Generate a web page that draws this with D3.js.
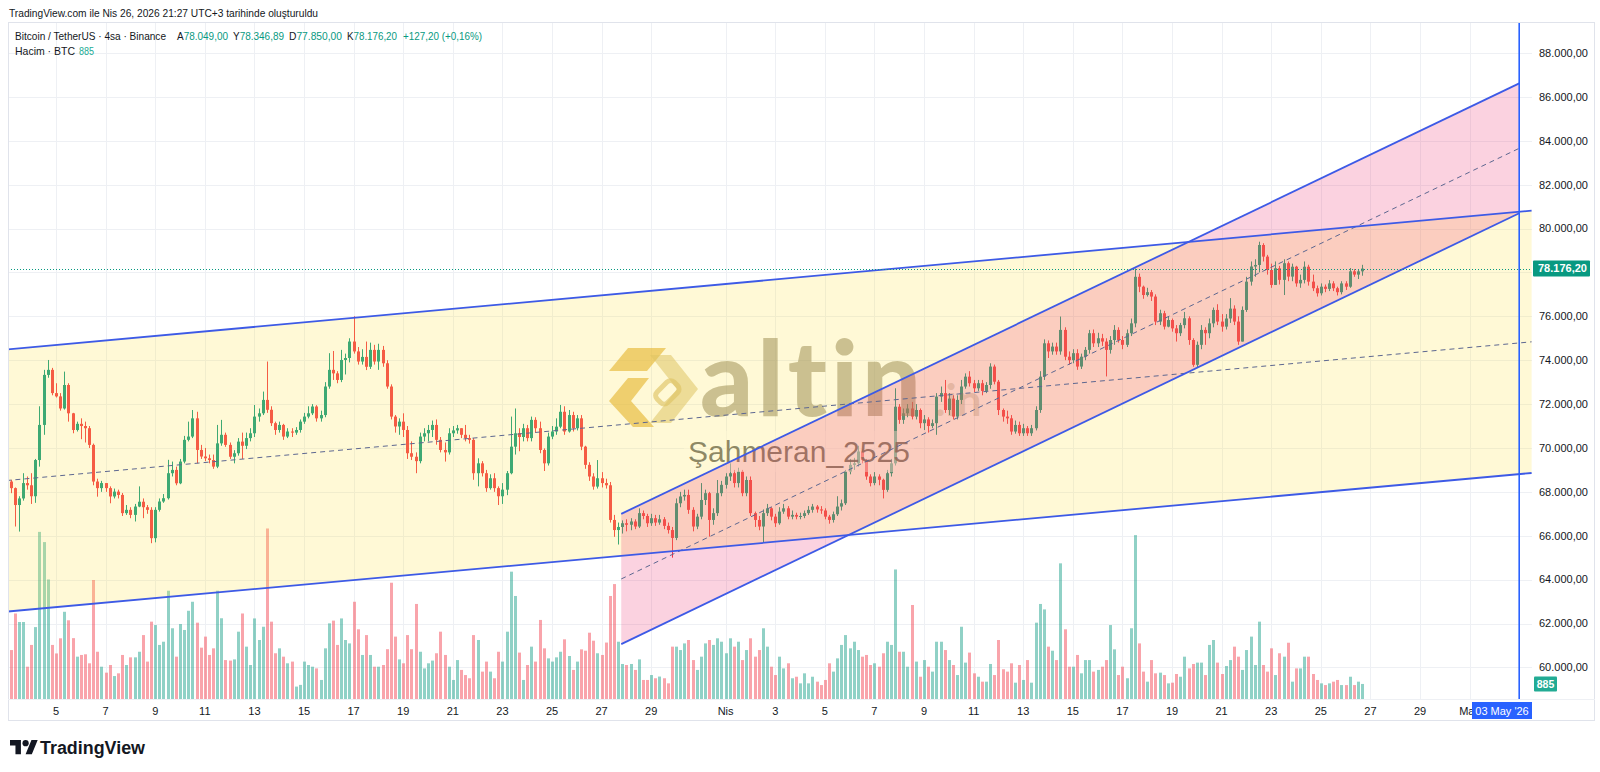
<!DOCTYPE html>
<html><head><meta charset="utf-8">
<script src="https://cdn.jsdelivr.net/npm/d3@7/dist/d3.min.js"></script>
<style>body{margin:0;background:#fff;overflow:hidden}svg{display:block;font-family:"Liberation Sans",Arial,sans-serif}</style>
</head><body><svg id="c" width="1600" height="772"></svg>
<script>
// ---------- DATA ----------
const firstCandle = "2026-03-03T04:00";   // 4h candles (UTC)
const firstOpen = 68470;
const closes = [
68170,67400,67700,68400,68300,67800, 69450,71050,73330,73560,72500,72350,
71800,72870,71580,70820,71100,71000, 70900,70140,68470,68170,68400,68170,
67790,68010,67860,67030,67180,66950, 67330,67550,67300,67180,65890,67180,
67560,67710,68850,69000,68390,69380, 70370,70520,71350,69910,69610,69530,
69450,69150,70210,70600,70140,69600, 69760,70290,70100,70450,70670,71430,
71580,72190,71740,71130,70820,71050, 70520,70750,70700,70820,71200,71430,
71580,71890,71350,71500,72800,73560, 73400,73100,74010,74100,74850,74400,
73940,74150,73700,74470,73940,74470, 73860,72800,71430,70980,71200,70820,
69760,69600,69400,70520,70670,70820, 71050,70370,69910,69800,70670,70800,
70900,70600,70450,70370,68850,69300, 68850,68170,68620,68170,67800,68100,
68850,70060,70670,70500,70900,70450, 71280,70900,69910,69300,70520,70750,
70970,71650,70750,71500,70900,71350, 70060,69230,68700,68240,68620,68400,
68300,66720,66260,66400,66570,66500, 66650,66420,67030,66900,66570,66800,
66600,66750,66450,66260,65900,67480, 67790,67860,67180,66420,66870,67630,
67940,66720,67030,67940,68320,68700, 68850,68400,68920,67940,68540,67030,
66720,66420,67030,67250,66870,66570, 67100,67250,66870,66950,66870,66900,
67030,67180,67330,67200,67150,66870, 66720,66980,67330,67480,68920,69230,
69300,69840,69450,68700,68400,68700, 68550,68090,68850,69300,71880,71280,
71580,71800,71430,71730,71130,71300, 71000,71130,72340,72500,71730,72250,
71430,72190,72800,73250,72950,72720, 72950,72600,72870,73710,73020,71730,
71430,71350,70750,71050,70670,70900, 70670,70900,71730,73250,74770,74400,
74620,74400,75380,74160,74000,74320, 73710,74160,74470,75230,74770,75000,
74850,74470,74920,75380,74920,74700, 75230,75680,77800,77350,76970,77100,
76900,75760,76140,75530,75830,75450, 75230,75600,75910,74920,73790,74700,
75380,75230,75680,76290,75760,75530, 75900,76350,75760,74850,76290,77580,
78270,78340,79250,78720,78110,77430, 78190,77660,78420,77810,78260,77500,
77660,78260,77580,77280,77050,77350, 77250,77500,77280,77100,77500,77350,
78050,77900,78049,78176.2];
const highs = [
68550,68200,67800,68850,68700,68850, 69500,71900,73560,74010,73650,72950,
72500,73480,72950,71600,71200,71350, 71200,71000,70200,68600,68500,68400,
68250,68150,68100,67950,67400,67300, 67450,68250,67700,67400,67300,67300,
67700,67900,69460,69380,69150,69500, 70550,71200,71730,71650,70140,70000,
69700,69700,71050,71280,70700,70250, 69900,70450,70700,70700,70900,71960,
71800,72570,73940,71900,71200,71200, 71100,70900,70900,70950,71300,71600,
71900,72000,71950,71700,73000,74320, 74420,73500,74470,74300,75000,76000,
74600,74500,74850,74800,74700,74750, 74650,74000,72900,71500,71350,71580,
71000,70300,69800,70700,70900,71050, 71250,71300,70500,70250,70900,71000,
71050,70800,71050,70600,70450,69530, 69400,69000,68800,68850,68250,68400,
68950,71430,71800,70900,71100,71050, 71430,71400,71200,69980,70700,71000,
71350,71960,71900,71730,71650,71500, 71500,70100,69350,68850,69450,68900,
68600,68450,66950,66600,66700,66750, 66800,66750,67250,67150,67000,67000,
66950,66950,66850,66600,66400,67700, 68000,68100,68100,67300,67000,68400,
68100,68000,67250,68540,68500,68850, 69300,69000,69100,69000,68700,68700,
67100,66900,67200,67450,67300,67000, 67300,67450,67350,67150,67050,67050,
67150,67350,67450,67400,67350,67250, 66950,67100,67800,67650,69000,69500,
69550,70100,69950,69500,68800,68900, 68800,68600,69000,69500,72720,72000,
71800,72000,72100,72000,71800,71500, 71400,71300,72500,72800,73100,72500,
72400,72400,73100,73400,73500,73100, 73100,73100,73000,73860,73800,73100,
71800,71700,71500,71250,71200,71100, 71000,71050,71900,73500,74950,74900,
74800,74800,75990,75500,74400,74500, 74500,74300,74600,75380,75400,75250,
75200,75000,75100,75600,75500,75100, 75400,75900,78180,77950,77400,77300,
77200,77000,76300,76250,76000,75900, 75600,75700,76200,76000,75000,74850,
75600,75500,75900,76400,76550,76100, 76100,76830,76500,76000,76450,77800,
78500,78600,79400,79330,78800,78400, 78500,78300,78600,78500,78400,78300,
77900,78500,78350,77900,77400,77500, 77450,77650,77600,77350,77600,77600,
78200,78150,78150,78346.89];
const lows = [
67940,66420,66190,67600,68100,67450, 67500,69150,70600,73200,72400,72300,
71700,71750,71200,70670,70750,70400, 70250,70000,68300,67780,68000,68000,
67480,67700,67700,66900,66950,66800, 66650,67300,66800,67000,65660,65700,
67100,67500,67650,68700,68300,68350, 69300,70300,70450,69300,69500,69400,
69300,69050,69080,70100,70050,69500, 69300,69650,69500,69950,70300,70500,
71200,71500,71600,71000,70600,70700, 70370,70450,70500,70600,70700,71100,
71350,71500,71200,71200,71400,72700, 73100,72950,73000,73350,73900,74300,
73800,73800,73550,73600,73800,73560, 73700,72700,71300,70700,70600,70500,
69500,69450,68850,69300,70300,70300, 70500,70150,69800,69380,69700,70500,
70650,70450,70300,70200,68550,68250, 68700,68000,68100,68000,67400,67450,
67850,68800,69700,69850,70300,70300, 70300,70700,69760,68950,69200,70400,
70600,70900,70600,70700,70750,70800, 69900,69050,68500,68100,68150,68200,
68150,66600,65950,65600,66100,66200, 66250,66300,66350,66750,66400,66450,
66450,66500,66300,66100,65000,65800, 67300,67600,67000,66200,66300,66750,
67400,65960,66500,66900,67800,68150, 68500,68200,68200,67800,67800,66900,
66400,66250,65700,66900,66700,66400, 66500,67000,66750,66750,66750,66750,
66800,66950,67050,67050,67000,66750, 66550,66600,66900,67150,67400,68800,
69000,69150,69300,68550,68250,68300, 68300,67700,68000,68700,69200,71100,
71100,71400,71300,71300,70900,70820, 70700,70900,70600,72100,71600,71500,
71300,71300,72000,72700,72800,72550, 72600,72400,72500,72700,72900,71500,
71200,71100,70600,70650,70550,70550, 70550,70550,70800,71600,73100,74100,
74250,74250,74250,74000,73800,73860, 73560,73600,74000,74300,74600,74600,
74650,73260,74300,74700,74800,74500, 74600,75100,75500,77100,76800,76900,
76700,75600,75600,75400,75500,75300, 74850,75100,75450,74700,73700,73650,
74500,74700,75000,75500,75600,75300, 75400,75700,75600,74700,74850,76200,
77400,77800,78000,78500,77900,77300, 77500,77450,76970,77600,77600,77350,
77300,77500,77400,77150,76900,76950, 77100,77150,77150,76950,77000,77200,
77300,77800,77700,77850];
const volumes = [
2880,5030,4530,4530,1900,3180, 4230,9830,9230,7030,3180,2680,
3570,5130,4630,3580,2490,2590, 2630,2100,7000,2780,1900,1550,
2000,1350,1510,2590,2000,2450, 2450,2780,3760,2200,4550,4350,
3180,3370,6370,4160,2490,4410, 4060,5190,5720,4490,3020,3670,
2590,2980,6370,4750,2290,2260, 2330,3960,5030,3080,2000,4740,
3470,4250,10030,4550,2690,2980, 2490,2100,2200,730,830,2200,
2000,1900,1800,1120,2980,4450, 4610,3180,4740,3470,3270,5720,
4100,2590,3760,2590,1900,1900, 2000,2930,6840,3670,2330,2100,
3760,2930,5590,2780,1800,2100, 2260,2690,3960,2590,1900,1120,
2290,1710,1410,1220,3760,3470, 1610,2200,1610,1220,2780,2200,
3960,7490,6060,2730,1120,2000, 3080,2200,4650,2980,2390,2200,
2450,2780,3510,2530,1710,2200, 2920,2840,3900,3430,2690,2590,
3320,6060,6760,3370,2060,2000, 2060,1710,2330,1120,1120,1410,
1220,1320,1220,920,3080,3080, 2880,3270,3470,2290,1710,2490,
3270,3470,3180,3570,3370,2690, 3570,3080,3370,2290,2880,3570,
2490,2880,4160,3080,1900,1410, 2490,1800,2100,1220,1310,920,
1510,920,1310,1020,820,1120, 2100,1610,2390,3180,3760,2980,
3370,2880,2490,2590,2000,2100, 1900,2690,3370,3180,7620,2780,
2780,1900,5530,2200,1310,2290, 1900,1610,3370,3370,2880,2290,
2000,1410,4250,2140,2730,1510, 1310,1020,1020,2060,1410,3470,
1750,1610,2100,960,2000,1120, 2290,960,4490,5590,5270,3080,
2840,2290,7980,4100,1900,1900, 2590,1510,2290,2290,1610,1710,
1900,2290,4350,2920,1410,1900, 1220,4160,9640,3270,1610,1020,
2290,1510,1550,1410,920,960, 1470,1310,2490,1800,2060,2140,
2140,1410,3180,3470,2140,1470, 1940,2290,3080,2490,1710,2880,
3670,2000,4550,2000,1610,2980, 1410,2690,2490,3310,1020,1800,
1800,2490,2490,1470,1120,920, 820,920,1020,1120,820,820,
1310,820,1020,885];

const priceTicks = [60000,62000,64000,66000,68000,70000,72000,74000,76000,78000,80000,82000,84000,86000,88000];
const dateTicks = ["2026-03-05","2026-03-07","2026-03-09","2026-03-11","2026-03-13","2026-03-15","2026-03-17","2026-03-19","2026-03-21","2026-03-23","2026-03-25","2026-03-27","2026-03-29","2026-04-01","2026-04-03","2026-04-05","2026-04-07","2026-04-09","2026-04-11","2026-04-13","2026-04-15","2026-04-17","2026-04-19","2026-04-21","2026-04-23","2026-04-25","2026-04-27","2026-04-29","2026-05-01"];
const dateTickLabels = ["5","7","9","11","13","15","17","19","21","23","25","27","29","Nis","3","5","7","9","11","13","15","17","19","21","23","25","27","29","May"];

// drawings (time, price)
const chanA_dates = ["2026-03-03T00:00","2026-05-03T12:00"];
const chanA_upper = [74490, 80815];
const chanA_lower = [62540, 68860];
const chanB_dates = ["2026-03-27T19:00","2026-05-03T00:00"];
const chanB_upper = [66998, 86615];
const chanB_lower = [61061, 80697];
const markerDate = "2026-05-03T00:00";
const markerLabel = "03 May '26";

// ---------- SETUP ----------
const svg = d3.select("#c");
const pane = {l: 8, r: 1532, t: 22, b: 699};
const parseDay = d3.utcParse("%Y-%m-%d");
const parseMin = d3.utcParse("%Y-%m-%dT%H:%M");
const xs = d3.scaleUtc().domain([Date.UTC(2026,2,5), Date.UTC(2026,3,27)]).range([56, 1370.4]);
const ys = d3.scaleLinear().domain([60000, 88000]).range([667.4, 53]);
const yv = d3.scaleLinear().domain([0, 10000]).range([pane.b, 529]);
const loc = d3.formatLocale({decimal: ",", thousands: ".", grouping: [3], currency: ["", ""]});
const fmt = loc.format(",.2f");

const UP = "#089981", DN = "#f23645";
const t0 = parseMin(firstCandle).getTime();
const candles = closes.map((c, i) => {
  const o = i === 0 ? firstOpen : closes[i - 1];
  return {t: new Date(t0 + i * 4 * 3600e3), o, c,
          h: Math.max(highs[i], o, c), l: Math.min(lows[i], o, c), v: volumes[i]};
});
const last = candles[candles.length - 1];

svg.append("rect").attr("width", 1600).attr("height", 772).attr("fill", "#fff");
const defs = svg.append("defs");
defs.append("clipPath").attr("id", "pc").append("rect")
  .attr("x", pane.l).attr("y", pane.t).attr("width", pane.r - pane.l).attr("height", pane.b - pane.t);

const mx = xs(parseMin(markerDate));
const bx = Math.min(mx - 30, pane.r - 60);
defs.append("clipPath").attr("id", "tc").append("rect")
  .attr("x", 0).attr("y", pane.b).attr("width", bx).attr("height", 30);

// grid
const grid = svg.append("g").attr("clip-path", "url(#pc)");
dateTicks.forEach(d => {
  const x = Math.round(xs(parseDay(d))) + 0.5;
  grid.append("line").attr("x1", x).attr("x2", x).attr("y1", pane.t).attr("y2", pane.b)
    .attr("stroke", "#eef0f4").attr("stroke-width", 1);
});
priceTicks.forEach(p => {
  const y = Math.round(ys(p)) + 0.5;
  grid.append("line").attr("x1", pane.l).attr("x2", pane.r).attr("y1", y).attr("y2", y)
    .attr("stroke", "#eef0f4").attr("stroke-width", 1);
});

const plot = svg.append("g").attr("clip-path", "url(#pc)");

// volume
plot.append("g").selectAll("rect").data(candles).join("rect")
  .attr("x", d => Math.round(xs(d.t)) - 1).attr("width", 3)
  .attr("y", d => yv(d.v)).attr("height", d => pane.b - yv(d.v))
  .attr("fill", d => d.c >= d.o ? "rgba(8,153,129,0.45)" : "rgba(242,54,69,0.45)");

// candles
const cg = plot.append("g");
cg.selectAll("line").data(candles).join("line")
  .attr("x1", d => Math.round(xs(d.t)) + 0.5).attr("x2", d => Math.round(xs(d.t)) + 0.5)
  .attr("y1", d => ys(d.h)).attr("y2", d => ys(d.l))
  .attr("stroke", d => d.c >= d.o ? UP : DN).attr("stroke-width", 1);
cg.selectAll("rect").data(candles).join("rect")
  .attr("x", d => Math.round(xs(d.t)) - 1).attr("width", 3)
  .attr("y", d => ys(Math.max(d.o, d.c)))
  .attr("height", d => Math.max(1, Math.abs(ys(d.o) - ys(d.c))))
  .attr("fill", d => d.c >= d.o ? UP : DN);

// watermark (logo + text)
const wm = plot.append("g");
wm.append("polygon").attr("points", "628,348 666,348 647,371 609,371").attr("fill", "rgba(224,174,50,0.65)");
wm.append("polygon").attr("points", "628,378 649,378 631,401 654,427 633,427 609,401").attr("fill", "rgba(224,174,50,0.65)");
wm.append("polygon").attr("points", "650,355 671,355 698,389 671,423 650,423 677,389").attr("fill", "rgba(214,188,110,0.55)");
wm.append("rect").attr("x", 655).attr("y", 385).attr("width", 24).attr("height", 15).attr("rx", 5)
  .attr("transform", "rotate(-45,667,392)").attr("fill", "none").attr("stroke", "rgba(214,188,110,0.65)").attr("stroke-width", 5);
wm.append("text").attr("x", 700).attr("y", 416).text("altin")
  .attr("font-family", "Lato, 'Open Sans', sans-serif").attr("font-weight", 900).attr("font-size", 104)
  .attr("letter-spacing", 4).attr("fill", "rgb(135,124,92)").attr("fill-opacity", 0.55);
wm.append("text").attr("x", 935).attr("y", 416).text(".in")
  .attr("font-family", "Lato, 'Open Sans', sans-serif").attr("font-weight", 700).attr("font-size", 44)
  .attr("fill", "rgb(135,124,92)").attr("fill-opacity", 0.3);
wm.append("rect").attr("x", 684).attr("y", 431).attr("width", 230).attr("height", 41)
  .attr("fill", "rgba(255,255,255,0.45)");
wm.append("text").attr("x", 688).attr("y", 462).text("Şahmeran_2525")
  .attr("font-family", "'Liberation Sans', Arial, sans-serif").attr("font-size", 30)
  .attr("fill", "#555").attr("fill-opacity", 0.85);

// channels
function pts(dates, a, b) {
  return [[xs(parseMin(dates[0])), ys(a[0])], [xs(parseMin(dates[1])), ys(a[1])],
          [xs(parseMin(dates[1])), ys(b[1])], [xs(parseMin(dates[0])), ys(b[0])]];
}
const midA = chanA_upper.map((v, i) => (v + chanA_lower[i]) / 2);
const midB = chanB_upper.map((v, i) => (v + chanB_lower[i]) / 2);
plot.append("polygon").attr("points", pts(chanA_dates, chanA_upper, chanA_lower).join(" "))
  .attr("fill", "rgba(255,228,70,0.22)");
plot.append("polygon").attr("points", pts(chanB_dates, chanB_upper, chanB_lower).join(" "))
  .attr("fill", "rgba(233,30,99,0.2)");

function seg(dates, vals, color, w, dash) {
  const l = plot.append("line")
    .attr("x1", xs(parseMin(dates[0]))).attr("y1", ys(vals[0]))
    .attr("x2", xs(parseMin(dates[1]))).attr("y2", ys(vals[1]))
    .attr("stroke", color).attr("stroke-width", w);
  if (dash) l.attr("stroke-dasharray", dash);
}
seg(chanA_dates, midA, "#5d6790", 1, "5,4");
seg(chanB_dates, midB, "#5d6790", 1, "5,4");
seg(chanA_dates, chanA_upper, "#3d5ae6", 1.8);
seg(chanA_dates, chanA_lower, "#3d5ae6", 1.8);
seg(chanB_dates, chanB_upper, "#3d5ae6", 1.8);
seg(chanB_dates, chanB_lower, "#3d5ae6", 1.8);

// last price dotted line
plot.append("line").attr("x1", pane.l).attr("x2", pane.r)
  .attr("y1", Math.round(ys(last.c)) + 0.5).attr("y2", Math.round(ys(last.c)) + 0.5)
  .attr("stroke", UP).attr("stroke-width", 1).attr("stroke-dasharray", "1,2");

// vertical marker
svg.append("line").attr("x1", mx).attr("x2", mx).attr("y1", pane.t).attr("y2", pane.b)
  .attr("stroke", "#2962ff").attr("stroke-width", 1.6);

// borders
svg.append("rect").attr("x", 8.5).attr("y", 22.5).attr("width", 1586).attr("height", 698)
  .attr("fill", "none").attr("stroke", "#e0e3eb");
svg.append("line").attr("x1", 8).attr("x2", 1595).attr("y1", pane.b + 0.5).attr("y2", pane.b + 0.5).attr("stroke", "#eef0f4");

// price axis
const lastY = ys(last.c);
const pa = svg.append("g").attr("font-size", 11).attr("fill", "#131722");
priceTicks.forEach(p => {
  if (Math.abs(ys(p) - lastY) < 12) return;
  pa.append("text").attr("x", 1539).attr("y", ys(p)).attr("dy", "0.35em").text(fmt(p));
});
svg.append("rect").attr("x", 1533).attr("y", lastY - 8).attr("width", 57).attr("height", 16).attr("fill", UP).attr("rx", 1);
svg.append("text").attr("x", 1538).attr("y", lastY).attr("dy", "0.35em").attr("font-size", 11)
  .attr("font-weight", 700).attr("fill", "#fff").text(fmt(last.c));
const vy = yv(last.v);
svg.append("rect").attr("x", 1534).attr("y", vy - 7.5).attr("width", 23).attr("height", 15).attr("fill", "#22ab94").attr("rx", 1);
svg.append("text").attr("x", 1545.5).attr("y", vy).attr("dy", "0.35em").attr("text-anchor", "middle")
  .attr("font-size", 10.5).attr("font-weight", 700).attr("fill", "#fff").text(d3.format("d")(last.v));

// time axis (labels hidden under the marker box, as in a TradingView snapshot)
const ta = svg.append("g").attr("font-size", 11).attr("fill", "#131722").attr("text-anchor", "middle")
  .attr("clip-path", "url(#tc)");
dateTicks.forEach((d, i) => {
  ta.append("text").attr("x", xs(parseDay(d))).attr("y", 715).text(dateTickLabels[i]);
});
svg.append("rect").attr("x", bx).attr("y", 702).attr("width", 60).attr("height", 17).attr("fill", "#2962ff");
svg.append("text").attr("x", bx + 30).attr("y", 714.5).attr("text-anchor", "middle").attr("font-size", 11)
  .attr("fill", "#fff").text(markerLabel);

// header
svg.append("text").attr("x", 9).attr("y", 17).attr("font-size", 11).attr("fill", "#131722")
  .attr("textLength", 309).attr("lengthAdjust", "spacingAndGlyphs")
  .text("TradingView.com ile Nis 26, 2026 21:27 UTC+3 tarihinde oluşturuldu");
const lg = svg.append("g").attr("font-size", 11);
function piece(x, y, label, val, w, col) {
  const t = lg.append("text").attr("x", x).attr("y", y).attr("textLength", w).attr("lengthAdjust", "spacingAndGlyphs");
  if (label) t.append("tspan").attr("fill", "#131722").text(label);
  if (val) t.append("tspan").attr("fill", col || UP).text(val);
}
piece(15, 40, "Bitcoin / TetherUS · 4sa · Binance", null, 151);
piece(177, 40, "A", fmt(last.o), 51);
piece(233, 40, "Y", fmt(last.h), 51);
piece(289, 40, "D", fmt(last.l), 53);
piece(347, 40, "K", fmt(last.c), 50);
const chg = last.c - last.o, pct = chg / last.o * 100;
piece(403, 40, null, "+" + loc.format(",.2f")(chg) + " (+" + loc.format(".2f")(pct) + "%)", 79);
piece(15, 55, "Hacim · BTC", null, 60);
piece(79, 55, null, d3.format("d")(last.v), 15, "#22ab94");

// TradingView logo
const lgG = svg.append("g").attr("transform", "translate(10,737) scale(0.78)").attr("fill", "#131722");
lgG.append("path").attr("d", "M14 22H7V11H0V4h14v18zM28 22h-8l7.5-18h8L28 22z");
lgG.append("circle").attr("cx", 20).attr("cy", 8).attr("r", 4);
svg.append("text").attr("x", 40).attr("y", 754).attr("font-size", 18).attr("font-weight", 700)
  .attr("fill", "#131722").attr("textLength", 105).attr("lengthAdjust", "spacingAndGlyphs").text("TradingView");
</script></body></html>
